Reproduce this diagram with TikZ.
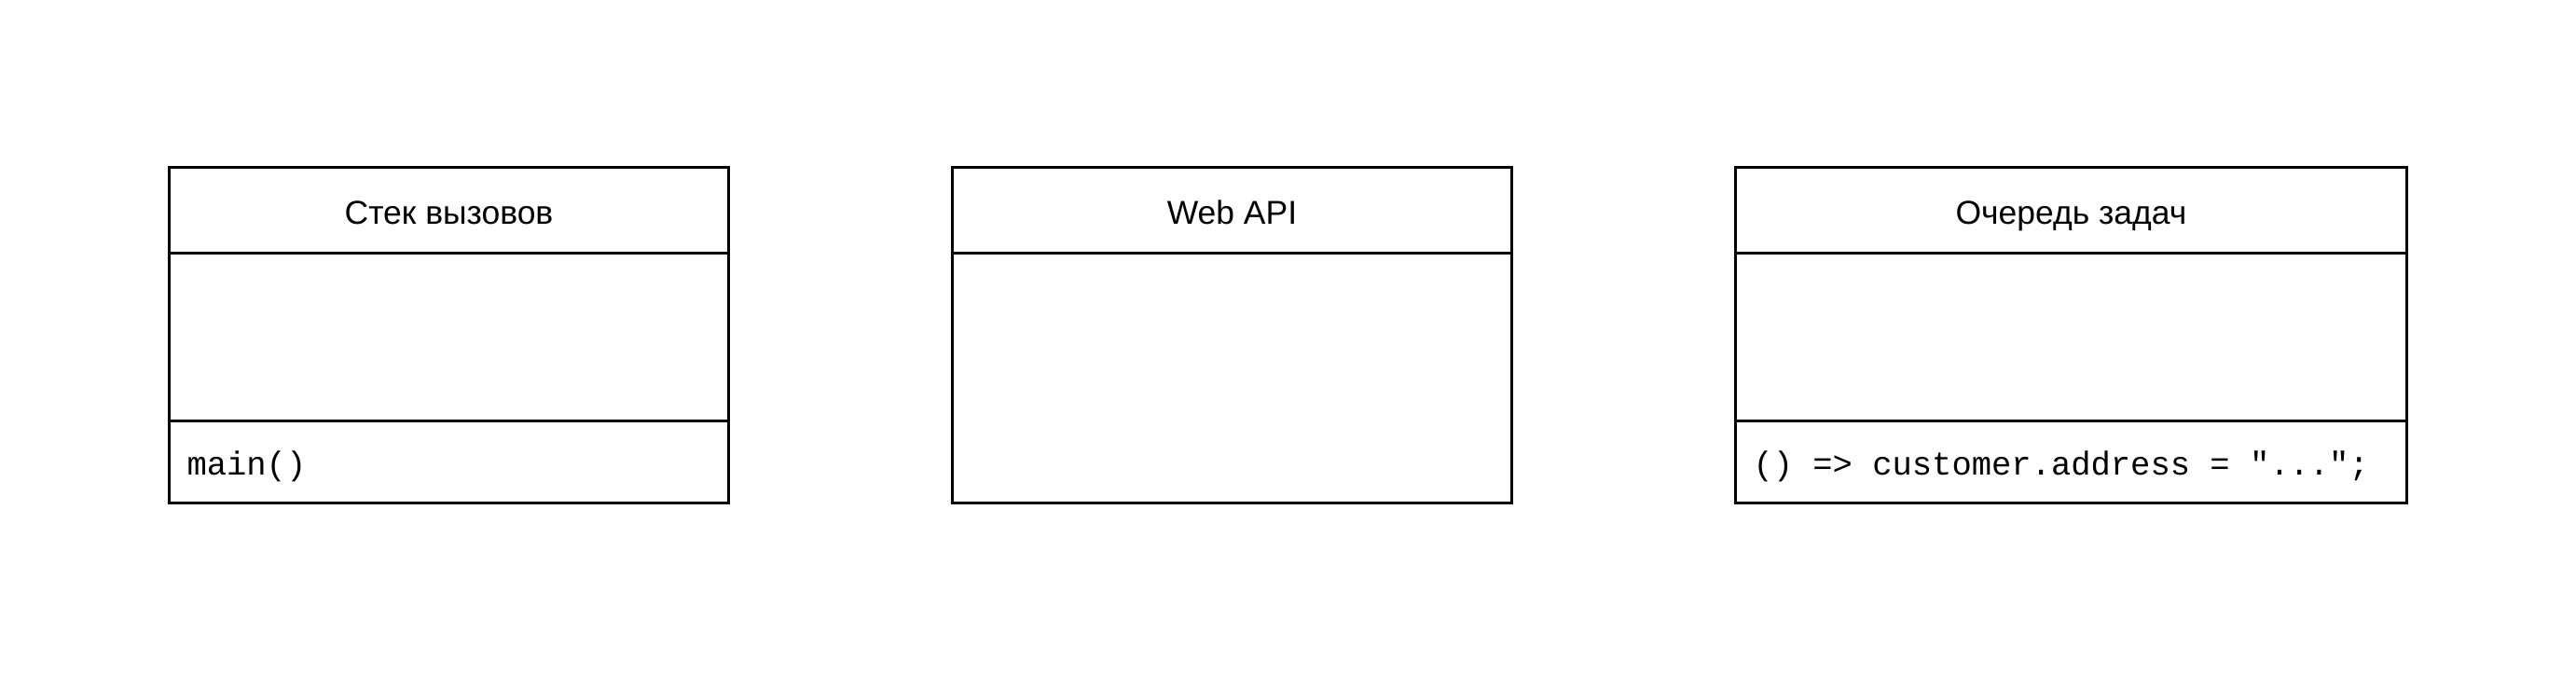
\documentclass[tikz,border=0pt]{standalone}
\usepackage{fontspec}
\setmainfont{Liberation Sans}
\setmonofont{Liberation Mono}
\usetikzlibrary{positioning}
\newcommand{\codesp}{\hspace*{0.6em}}
\tikzset{
  headbox/.style={draw=black,line width=1.4pt,outer sep=0pt,minimum height=46pt,inner sep=0pt,text height=14.5pt,text depth=0pt,font=\fontsize{17.75}{21}\selectfont},
  bodybox/.style={draw=black,line width=1.4pt,outer sep=0pt,minimum height=#1,inner sep=0pt},
  itembox/.style={draw=black,line width=1.4pt,outer sep=0pt,minimum height=44pt,inner xsep=9.5pt,inner ysep=0pt,text height=14pt,text depth=0pt,align=left,font=\ttfamily\fontsize{17.75}{21}\selectfont}
}

\begin{document}
\begin{tikzpicture}[node distance=0pt and 120pt]
\useasboundingbox (0,0) rectangle (1381.5pt,-361.5pt);
% call stack
\node[headbox,minimum width=300pt,anchor=north west] (stack) at (90.75pt,-89.85pt) {Стек вызовов};
\node[bodybox=90pt,minimum width=300pt,below=of stack] (stackbody) {};
\node[itembox,text width=281pt,below=of stackbody] (stackitem) {main()};
% web api
\node[headbox,minimum width=300pt,right=of stack] (web) {Web API};
\node[bodybox=134pt,minimum width=300pt,below=of web] (webbody) {};
% task queue
\node[headbox,minimum width=360pt,right=of web] (queue) {Очередь задач};
\node[bodybox=90pt,minimum width=360pt,below=of queue] (queuebody) {};
\node[itembox,text width=341pt,below=of queuebody] (queueitem) {()\codesp=>\codesp customer.address\codesp=\codesp"...";};
\end{tikzpicture}
\end{document}
